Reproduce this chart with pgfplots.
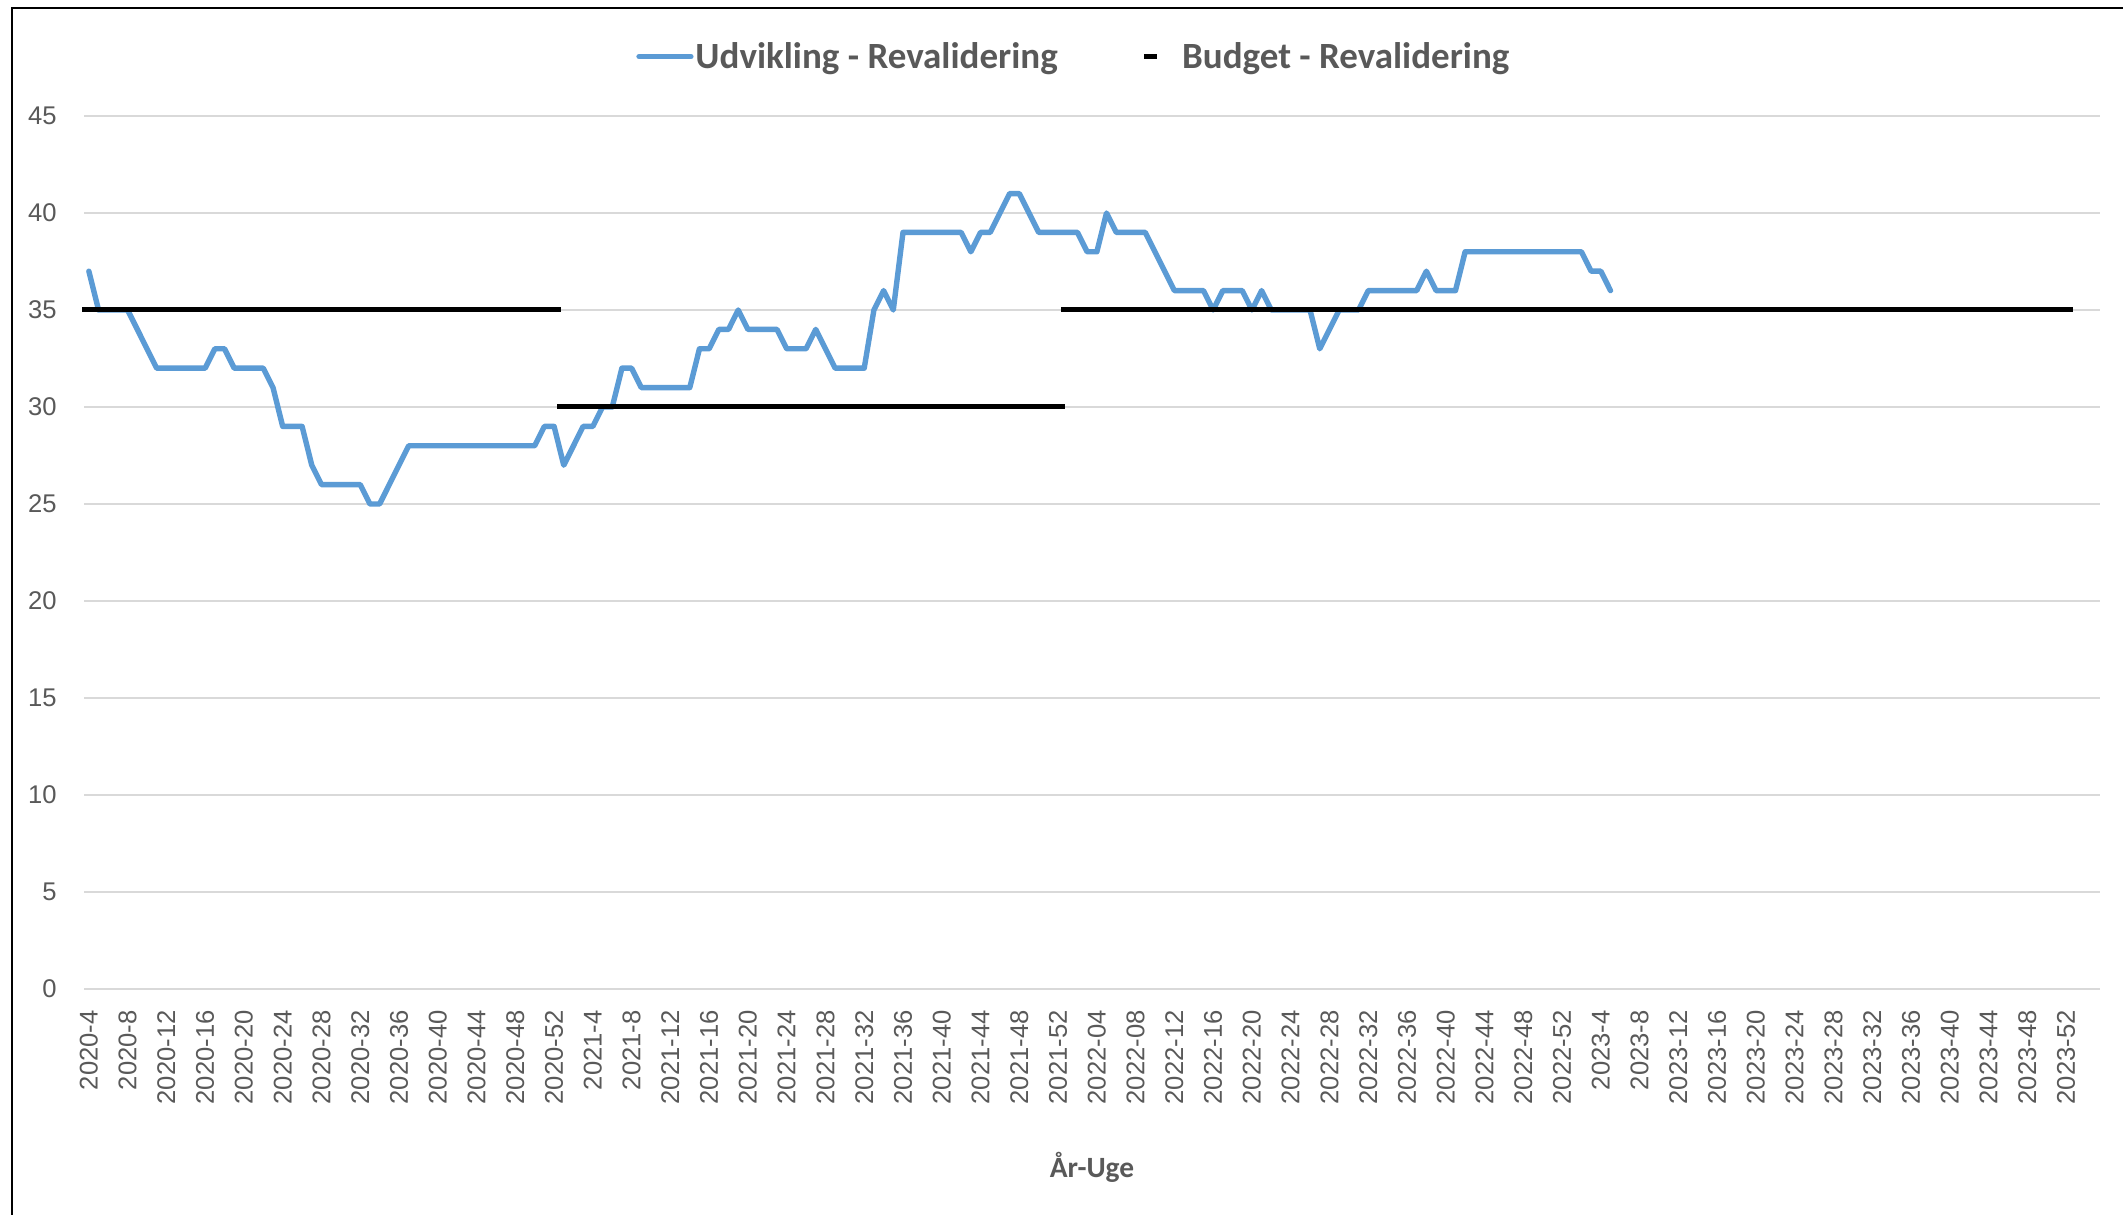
\documentclass[border=0pt]{standalone}
\usepackage{pgfplots}
\pgfplotsset{compat=1.18}
\usepackage{fontspec}
\setmainfont{Liberation Sans}
\newfontfamily\carlito{Carlito}
\definecolor{xlblue}{HTML}{5B9BD5}
\definecolor{txtgray}{HTML}{595959}
\definecolor{gridgray}{HTML}{D9D9D9}

\begin{document}
\begin{tikzpicture}
\useasboundingbox (0,0) rectangle (1061.5pt,607pt);
\clip (0,0) rectangle (1061.5pt,607pt);
\fill[white] (0,0) rectangle (1061.5pt,607pt);
\draw[line width=1.4pt] (6pt,-20pt) -- (6pt,603pt) -- (1100pt,603pt);
\begin{axis}[
    at={(42pt,112.5pt)}, anchor=south west,
    scale only axis, width=1008pt, height=436.5pt,
    xmin=-0.5, xmax=207.5, ymin=0, ymax=45,
    clip=false,
    ytick={0,5,...,45},
    xtick={0,4,...,204},
    xticklabels={2020-4,2020-8,2020-12,2020-16,2020-20,2020-24,2020-28,2020-32,2020-36,2020-40,2020-44,2020-48,2020-52,
        2021-4,2021-8,2021-12,2021-16,2021-20,2021-24,2021-28,2021-32,2021-36,2021-40,2021-44,2021-48,2021-52,
        2022-04,2022-08,2022-12,2022-16,2022-20,2022-24,2022-28,2022-32,2022-36,2022-40,2022-44,2022-48,2022-52,
        2023-4,2023-8,2023-12,2023-16,2023-20,2023-24,2023-28,2023-32,2023-36,2023-40,2023-44,2023-48,2023-52},
    axis line style={draw=none},
    major tick length=0pt,
    ymajorgrids,
    grid style={gridgray, line width=1.2pt},
    tick label style={font=\fontsize{12.8}{15}\selectfont, text=txtgray},
    /pgf/number format/assume math mode=true,
    yticklabel style={anchor=east, inner xsep=13.5pt, inner ysep=0pt},
    xticklabel style={rotate=90, anchor=east, inner xsep=10.5pt, inner ysep=0pt},
    xlabel={År-Uge},
    xlabel style={at={(axis description cs:0.5,-0.204)}, anchor=center,
        font=\carlito\bfseries\fontsize{14.7}{17}\selectfont, text=txtgray},
    legend columns=2,
    legend style={at={(axis description cs:0.2738,1.068)}, anchor=west,
        draw=none, fill=none, inner sep=0pt,
        font=\carlito\bfseries\fontsize{18.5}{22}\selectfont, text=txtgray,
        nodes={inner xsep=0pt, inner ysep=0pt},
        /tikz/every even column/.append style={column sep=42pt}},
    legend cell align=left,
]
% Udvikling - Revalidering
\addplot[xlblue, line width=2.7pt, line cap=round, line join=round,
    legend image code/.code={
        \path[draw=none, fill=none] (0pt,0pt) -- (29.5pt,0pt);
        \draw[xlblue, line width=2.7pt, line cap=round] (1.3pt,0pt) -- (27.2pt,0pt);}]
coordinates {
(0,37) (1,35) (2,35) (3,35) (4,35) (5,34) (6,33) (7,32) (8,32) (9,32)
(10,32) (11,32) (12,32) (13,33) (14,33) (15,32) (16,32) (17,32) (18,32) (19,31)
(20,29) (21,29) (22,29) (23,27) (24,26) (25,26) (26,26) (27,26) (28,26) (29,25)
(30,25) (31,26) (32,27) (33,28) (34,28) (35,28) (36,28) (37,28) (38,28) (39,28)
(40,28) (41,28) (42,28) (43,28) (44,28) (45,28) (46,28) (47,29) (48,29) (49,27)
(50,28) (51,29) (52,29) (53,30) (54,30) (55,32) (56,32) (57,31) (58,31) (59,31)
(60,31) (61,31) (62,31) (63,33) (64,33) (65,34) (66,34) (67,35) (68,34) (69,34)
(70,34) (71,34) (72,33) (73,33) (74,33) (75,34) (76,33) (77,32) (78,32) (79,32)
(80,32) (81,35) (82,36) (83,35) (84,39) (85,39) (86,39) (87,39) (88,39) (89,39)
(90,39) (91,38) (92,39) (93,39) (94,40) (95,41) (96,41) (97,40) (98,39) (99,39)
(100,39) (101,39) (102,39) (103,38) (104,38) (105,40) (106,39) (107,39) (108,39) (109,39)
(110,38) (111,37) (112,36) (113,36) (114,36) (115,36) (116,35) (117,36) (118,36) (119,36)
(120,35) (121,36) (122,35) (123,35) (124,35) (125,35) (126,35) (127,33) (128,34) (129,35)
(130,35) (131,35) (132,36) (133,36) (134,36) (135,36) (136,36) (137,36) (138,37) (139,36)
(140,36) (141,36) (142,38) (143,38) (144,38) (145,38) (146,38) (147,38) (148,38) (149,38)
(150,38) (151,38) (152,38) (153,38) (154,38) (155,37) (156,37) (157,36)
};
\addlegendentry{Udvikling - Revalidering}
% Budget - Revalidering
\addplot[only marks, mark=-, mark size=3.4pt, black, line width=2.5pt,
    legend image code/.code={
        \path[draw=none, fill=none] (0pt,0pt) -- (19pt,0pt);
        \draw[black, line width=2.5pt] (0pt,0pt) -- (6.5pt,0pt);}]
coordinates {
(0,35) (1,35) (2,35) (3,35) (4,35) (5,35) (6,35) (7,35) (8,35) (9,35)
(10,35) (11,35) (12,35) (13,35) (14,35) (15,35) (16,35) (17,35) (18,35) (19,35)
(20,35) (21,35) (22,35) (23,35) (24,35) (25,35) (26,35) (27,35) (28,35) (29,35)
(30,35) (31,35) (32,35) (33,35) (34,35) (35,35) (36,35) (37,35) (38,35) (39,35)
(40,35) (41,35) (42,35) (43,35) (44,35) (45,35) (46,35) (47,35) (48,35) (49,30)
(50,30) (51,30) (52,30) (53,30) (54,30) (55,30) (56,30) (57,30) (58,30) (59,30)
(60,30) (61,30) (62,30) (63,30) (64,30) (65,30) (66,30) (67,30) (68,30) (69,30)
(70,30) (71,30) (72,30) (73,30) (74,30) (75,30) (76,30) (77,30) (78,30) (79,30)
(80,30) (81,30) (82,30) (83,30) (84,30) (85,30) (86,30) (87,30) (88,30) (89,30)
(90,30) (91,30) (92,30) (93,30) (94,30) (95,30) (96,30) (97,30) (98,30) (99,30)
(100,30) (101,35) (102,35) (103,35) (104,35) (105,35) (106,35) (107,35) (108,35) (109,35)
(110,35) (111,35) (112,35) (113,35) (114,35) (115,35) (116,35) (117,35) (118,35) (119,35)
(120,35) (121,35) (122,35) (123,35) (124,35) (125,35) (126,35) (127,35) (128,35) (129,35)
(130,35) (131,35) (132,35) (133,35) (134,35) (135,35) (136,35) (137,35) (138,35) (139,35)
(140,35) (141,35) (142,35) (143,35) (144,35) (145,35) (146,35) (147,35) (148,35) (149,35)
(150,35) (151,35) (152,35) (153,35) (154,35) (155,35) (156,35) (157,35) (158,35) (159,35)
(160,35) (161,35) (162,35) (163,35) (164,35) (165,35) (166,35) (167,35) (168,35) (169,35)
(170,35) (171,35) (172,35) (173,35) (174,35) (175,35) (176,35) (177,35) (178,35) (179,35)
(180,35) (181,35) (182,35) (183,35) (184,35) (185,35) (186,35) (187,35) (188,35) (189,35)
(190,35) (191,35) (192,35) (193,35) (194,35) (195,35) (196,35) (197,35) (198,35) (199,35)
(200,35) (201,35) (202,35) (203,35) (204,35)
};
\addlegendentry{Budget - Revalidering}
\end{axis}
\end{tikzpicture}
\end{document}
